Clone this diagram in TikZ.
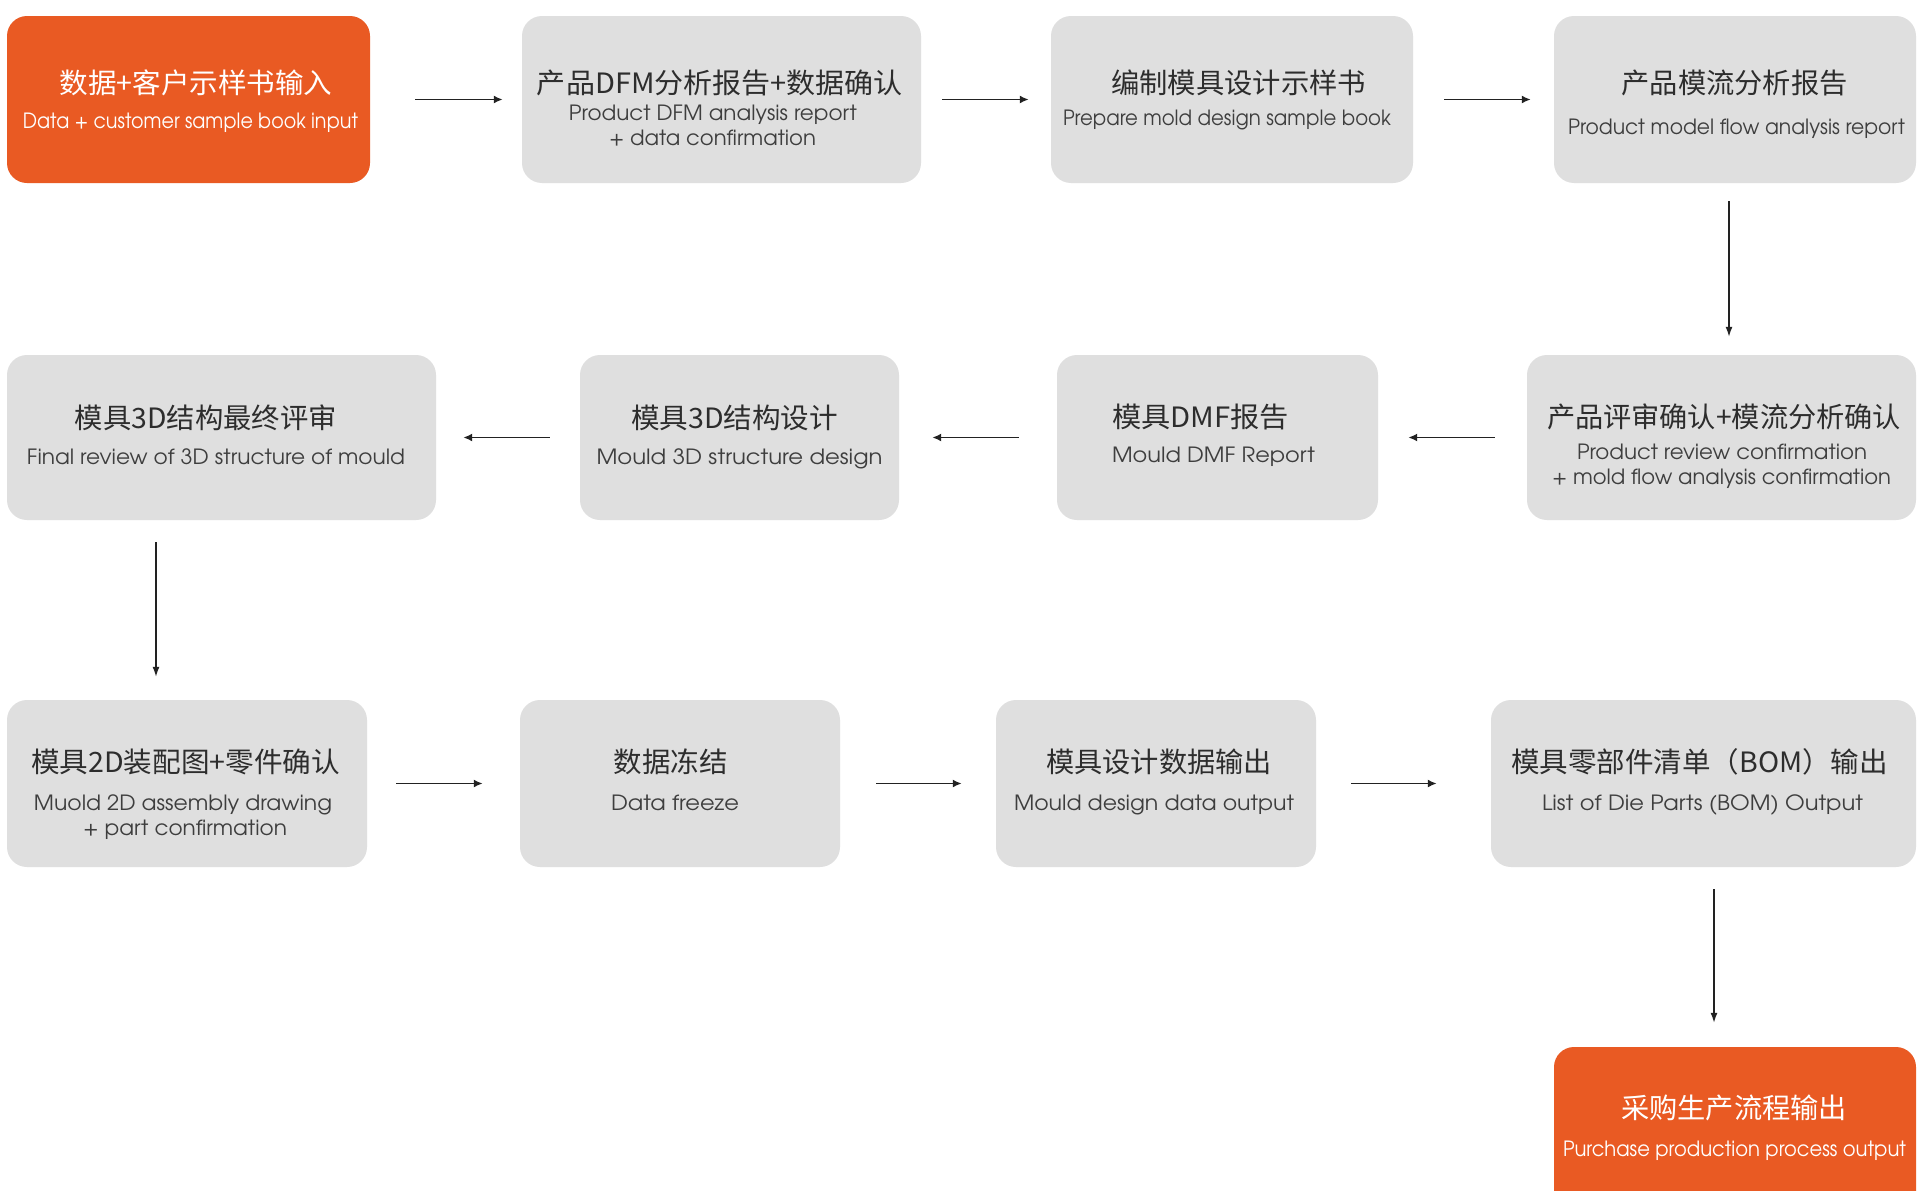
\documentclass[tikz,border=0pt]{standalone}
\usepackage{fontspec}
\usepackage{graphicx}
\usetikzlibrary{arrows.meta,calc}
\newfontfamily\zhfont{Noto Sans CJK SC}
\newfontfamily\enfont{TeX Gyre Adventor}
\definecolor{orangebox}{RGB}{233,90,35}
\definecolor{graybox}{RGB}{223,223,223}
\definecolor{zhtext}{RGB}{45,45,45}
\definecolor{entext}{RGB}{62,62,62}
\definecolor{arrowc}{RGB}{34,34,34}
\newcommand{\zhline}[2]{\resizebox{#1pt}{\height}{\zhfont\fontsize{28}{32}\selectfont #2}}
\newcommand{\enline}[2]{\resizebox{#1pt}{\height}{\enfont\fontsize{21}{25}\selectfont #2}}
\tikzset{
  box/.style={rounded corners=20pt, inner sep=0pt, minimum height=167pt, draw=none},
  gbox/.style={box, fill=graybox},
  obox/.style={box, fill=orangebox},
  zh/.style={anchor=base, inner sep=0pt, text=zhtext},
  en/.style={anchor=base, inner sep=0pt, text=entext},
  wt/.style={text=white},
  arr/.style={draw=arrowc, line width=1.8pt, -{Latex[length=9pt,width=8pt]}},
  varr/.style={draw=arrowc, line width=1.4pt, -{Latex[length=10pt,width=7pt]}}
}
\begin{document}
\begin{tikzpicture}[x=1pt,y=-1pt]
\useasboundingbox (0,0) rectangle (1920,1191);
\fill[white] (0,0) rectangle (1920,1191);
\clip (0,0) rectangle (1920,1191);

% Row 1
\node[obox, minimum width=363pt] (b1) at (188.5,99.5) {};
\node[zh,wt] (b1zh) at (196,93) {\zhline{273}{数据+客户示样书输入}};
\node[en,wt] (b1en) at (190.5,128) {\enline{335}{Data + customer sample book input}};

\node[gbox, minimum width=399pt] (b2) at (721.5,99.5) {};
\node[zh] (b2zh) at (720,93) {\zhline{366}{产品DFM分析报告+数据确认}};
\node[en] (b2en1) at (713,120.5) {\enline{288}{Product DFM analysis report}};
\node[en] (b2en2) at (712.5,145.5) {\enline{207}{+ data confirmation}};

\node[gbox, minimum width=362pt] (b3) at (1232,99.5) {};
\node[zh] (b3zh) at (1238.5,93) {\zhline{255}{编制模具设计示样书}};
\node[en] (b3en) at (1227,125.5) {\enline{328}{Prepare mold design sample book}};

\node[gbox, minimum width=362pt] (b4) at (1735,99.5) {};
\node[zh] (b4zh) at (1734.5,93) {\zhline{226}{产品模流分析报告}};
\node[en] (b4en) at (1736.5,134.5) {\enline{337}{Product model flow analysis report}};

% Row 2
\node[gbox, minimum width=389pt, minimum height=165pt] (b5) at (1721.5,437.5) {};
\node[zh] (b5zh) at (1724,427) {\zhline{354}{产品评审确认+模流分析确认}};
\node[en] (b5en1) at (1722,459.5) {\enline{290}{Product review confirmation}};
\node[en] (b5en2) at (1721.5,484.5) {\enline{339}{+ mold flow analysis confirmation}};

\node[gbox, minimum width=321pt, minimum height=165pt] (b6) at (1217.5,437.5) {};
\node[zh] (b6zh) at (1200.5,427) {\zhline{177}{模具DMF报告}};
\node[en] (b6en) at (1213.5,462.5) {\enline{203}{Mould DMF Report}};

\node[gbox, minimum width=319pt, minimum height=165pt] (b7) at (739.5,437.5) {};
\node[zh] (b7zh) at (734.5,428) {\zhline{207}{模具3D结构设计}};
\node[en] (b7en) at (739.5,464.5) {\enline{286}{Mould 3D structure design}};

\node[gbox, minimum width=429pt, minimum height=165pt] (b8) at (221.5,437.5) {};
\node[zh] (b8zh) at (206,428) {\zhline{262}{模具3D结构最终评审}};
\node[en] (b8en) at (216,464.5) {\enline{378}{Final review of 3D structure of mould}};

% Row 3
\node[gbox, minimum width=360pt] (b9) at (187,783.5) {};
\node[zh] (b9zh) at (185.5,772) {\zhline{309}{模具2D装配图+零件确认}};
\node[en] (b9en1) at (183,810.5) {\enline{298}{Muold 2D assembly drawing}};
\node[en] (b9en2) at (185,835.5) {\enline{204}{+ part confirmation}};

\node[gbox, minimum width=320pt] (b10) at (680,783.5) {};
\node[zh] (b10zh) at (670.5,772) {\zhline{114}{数据冻结}};
\node[en] (b10en) at (675,810.5) {\enline{128}{Data freeze}};

\node[gbox, minimum width=320pt] (b11) at (1156,783.5) {};
\node[zh] (b11zh) at (1159,772) {\zhline{226}{模具设计数据输出}};
\node[en] (b11en) at (1154,810.5) {\enline{280}{Mould design data output}};

\node[gbox, minimum width=425pt] (b12) at (1703.5,783.5) {};
\node[zh] (b12zh) at (1699.5,772) {\zhline{377}{模具零部件清单（BOM）输出}};
\node[en] (b12en) at (1702.5,810.5) {\enline{321}{List of Die Parts (BOM) Output}};

% Row 4
\node[obox, minimum width=362pt, minimum height=168pt] (b13) at (1735,1131) {};
\node[zh,wt] (b13zh) at (1734,1118) {\zhline{226}{采购生产流程输出}};
\node[en,wt] (b13en) at (1734.5,1156.5) {\enline{343}{Purchase production process output}};

% Connectors
\draw[arr] ($(b1.east)+(45,0)$) -- ($(b2.west)+(-19,0)$);
\draw[arr] ($(b2.east)+(21,0)$) -- ($(b3.west)+(-22,0)$);
\draw[arr] ($(b3.east)+(31,0)$) -- ($(b4.west)+(-23,0)$);
\draw[varr] ($(b4.south)+(-6,18)$) -- ($(b5.north)+(7.5,-18)$);
\draw[arr] ($(b5.west)+(-32,0)$) -- ($(b6.east)+(30,0)$);
\draw[arr] ($(b6.west)+(-38,0)$) -- ($(b7.east)+(33,0)$);
\draw[arr] ($(b7.west)+(-30,0)$) -- ($(b8.east)+(27,0)$);
\draw[varr] ($(b8.south)+(-65.5,22)$) -- ($(b9.north)+(-31,-23)$);
\draw[arr] ($(b9.east)+(29,0)$) -- ($(b10.west)+(-37,0)$);
\draw[arr] ($(b10.east)+(36,0)$) -- ($(b11.west)+(-34,0)$);
\draw[arr] ($(b11.east)+(35,0)$) -- ($(b12.west)+(-54,0)$);
\draw[varr] ($(b12.south)+(10.5,22)$) -- ($(b13.north)+(-21,-24)$);
\end{tikzpicture}
\end{document}
